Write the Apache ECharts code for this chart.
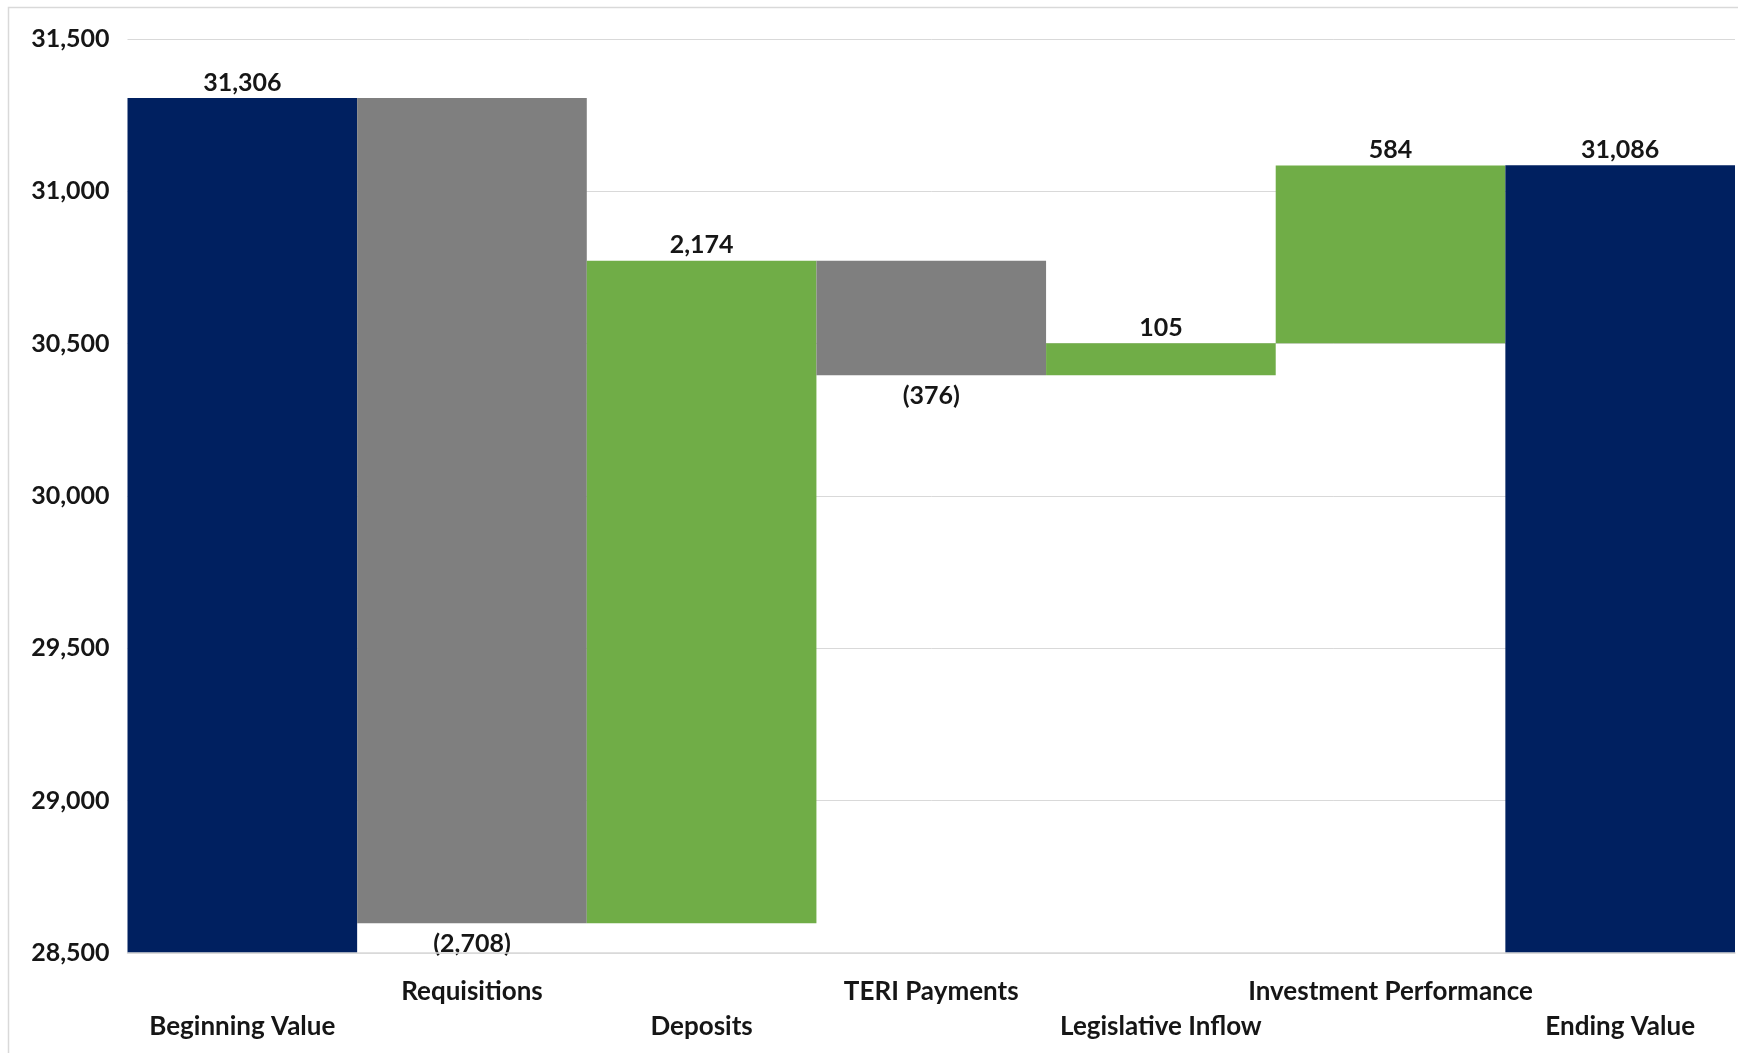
<!DOCTYPE html>
<html>
<head>
<meta charset="utf-8">
<title>Fund Value Walk</title>
<script src="https://cdn.jsdelivr.net/npm/echarts@6/dist/echarts.min.js"></script>
<style>
  html, body { margin: 0; padding: 0; background: #ffffff; }
  #chart { width: 1738px; height: 1053px; }
</style>
</head>
<body>
<div id="chart"></div>
<script>
// Categories along the walk, from opening balance to closing balance
const categories = [
  'Beginning Value', 'Requisitions', 'Deposits', 'TERI Payments',
  'Legislative Inflow', 'Investment Performance', 'Ending Value'
];
// Opening and closing totals
const beginningValue = 31306;
const endingValue = 31086;
// Signed changes between the two totals
const changes = [-2708, 2174, -376, 105, 584];
// Value axis range and ticks
const yMin = 28500;
const yMax = 31500;
const yStep = 500;

const NAVY = '#002060';
const GRAY = '#7f7f7f';
const GREEN = '#70ad47';
const TEXT = '#161616';
const FONT = 'Lato, "Open Sans", sans-serif';

// Build the invisible base and the visible segment for each step
const baseData = [];
const barData = [];
baseData.push(0);
barData.push({ value: beginningValue, real: beginningValue, itemStyle: { color: NAVY }, label: { position: 'top' } });
let running = beginningValue;
changes.forEach(function (c) {
  const next = running + c;
  baseData.push(Math.min(running, next));
  barData.push({
    value: Math.abs(c),
    real: c,
    itemStyle: { color: c < 0 ? GRAY : GREEN },
    label: c < 0 ? { position: 'bottom', distance: 8 } : { position: 'top' }
  });
  running = next;
});
baseData.push(0);
barData.push({ value: endingValue, real: endingValue, itemStyle: { color: NAVY }, label: { position: 'top' } });

function fmt(v) {
  const s = Math.abs(v).toLocaleString('en-US');
  return v < 0 ? '(' + s + ')' : s;
}

const chart = echarts.init(document.getElementById('chart'), null, { renderer: 'canvas' });
chart.setOption({
  animation: false,
  backgroundColor: '#ffffff',
  graphic: [{
    type: 'rect',
    silent: true,
    z: -10,
    shape: { x: 8.5, y: 7.5, width: 1780, height: 1100 },
    style: { fill: 'none', stroke: '#d9d9d9', lineWidth: 1.5 }
  }],
  grid: { left: 127.5, right: 3, top: 39, bottom: 100, containLabel: false },
  xAxis: {
    type: 'category',
    data: categories,
    z: 3,
    axisLine: { show: true, lineStyle: { color: '#d9d9d9', width: 1.5 } },
    axisTick: { show: false },
    axisLabel: {
      interval: 0,
      margin: 21,
      color: TEXT,
      fontFamily: FONT,
      fontWeight: 'bold',
      fontSize: 26,
      lineHeight: 35,
      formatter: function (value, index) {
        return index % 2 === 0 ? '\n' + value : value;
      }
    }
  },
  yAxis: {
    type: 'value',
    min: yMin,
    max: yMax,
    interval: yStep,
    axisLine: { show: false },
    axisTick: { show: false },
    splitLine: { show: true, lineStyle: { color: '#d9d9d9', width: 1 } },
    axisLabel: {
      margin: 18,
      color: TEXT,
      fontFamily: FONT,
      fontWeight: 'bold',
      fontSize: 25,
      padding: [4, 0, 0, 0],
      formatter: function (v) { return v.toLocaleString('en-US'); }
    }
  },
  series: [
    {
      name: 'base',
      type: 'bar',
      stack: 'walk',
      silent: true,
      barCategoryGap: '0%',
      itemStyle: { color: 'rgba(0,0,0,0)' },
      data: baseData
    },
    {
      name: 'value',
      type: 'bar',
      stack: 'walk',
      barCategoryGap: '0%',
      clip: true,
      label: {
        show: true,
        distance: 3,
        color: TEXT,
        fontFamily: FONT,
        fontWeight: 'bold',
        fontSize: 25,
        formatter: function (p) { return fmt(p.data.real); }
      },
      data: barData
    }
  ]
});
</script>
</body>
</html>
